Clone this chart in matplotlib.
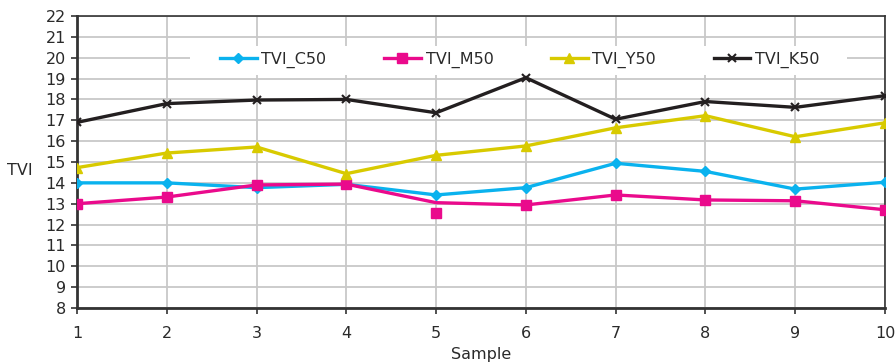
import matplotlib
matplotlib.use("Agg")
import matplotlib.pyplot as plt
from matplotlib.ticker import MultipleLocator
from matplotlib.patches import Rectangle

samples = [1, 2, 3, 4, 5, 6, 7, 8, 9, 10]
tvi_c50 = [14.0, 14.0, 13.77, 13.93, 13.42, 13.77, 14.94, 14.55, 13.7, 14.03]
tvi_m50 = [13.0, 13.32, 13.9, 13.94, 13.05, 12.94, 13.42, 13.18, 13.14, 12.71]
tvi_y50 = [14.73, 15.43, 15.72, 14.44, 15.32, 15.77, 16.64, 17.22, 16.21, 16.88]
tvi_k50 = [16.9, 17.8, 17.97, 18.0, 17.36, 19.04, 17.05, 17.9, 17.62, 18.18]
# sample 5 of M50 has its marker off the line
m50_marker_sample = 5
m50_marker_value = 12.57

plt.rcParams['font.family'] = ['DejaVu Sans']
fig = plt.figure(figsize=(8.96, 3.62), dpi=100)
ax = fig.add_axes([77 / 896, 1 - 308 / 362, (885 - 77) / 896, (308 - 16) / 362])

lw = 2.4
c_cyan = '#0AB2EE'
c_mag = '#EA0A8C'
c_yel = '#D8CA00'
c_blk = '#231F20'

ax.plot(samples, tvi_c50, color=c_cyan, lw=lw, marker='D', ms=5, label='TVI_C50', zorder=3)
ax.plot(samples, tvi_m50, color=c_mag, lw=lw, marker='s', ms=7,
        markevery=[i for i in range(len(samples)) if samples[i] != m50_marker_sample],
        label='TVI_M50', zorder=3)
ax.plot([m50_marker_sample], [m50_marker_value], color=c_mag, marker='s', ms=7, ls='none', zorder=3)
ax.plot(samples, tvi_y50, color=c_yel, lw=lw, marker='^', ms=7.5, label='TVI_Y50', zorder=3)
ax.plot(samples, tvi_k50, color=c_blk, lw=lw, marker='x', ms=6, mew=1.5, label='TVI_K50', zorder=4)

ax.set_xlim(1, 10)
ax.set_ylim(8, 22)
ax.xaxis.set_major_locator(MultipleLocator(1))
ax.yaxis.set_major_locator(MultipleLocator(1))
ax.grid(True, color='#C8C8C8', lw=1.3)
ax.set_axisbelow(True)

# white legend background over the grid
ax.add_patch(Rectangle((0.14, 0.798), 0.813, 0.099, transform=ax.transAxes,
                       facecolor='white', edgecolor='none', zorder=1))

for s in ['left', 'bottom']:
    ax.spines[s].set_color('#333333')
    ax.spines[s].set_linewidth(2)
for s in ['top', 'right']:
    ax.spines[s].set_color('#333333')
    ax.spines[s].set_linewidth(1.2)

ax.tick_params(axis='both', labelsize=11.5, colors='#333333', length=4, width=1.2, pad=4)
ax.tick_params(axis='x', pad=9)
for lab in ax.get_xticklabels() + ax.get_yticklabels():
    lab.set_color('#2a2a2a')

ax.set_xlabel('Sample', fontsize=11.5, color='#2a2a2a', labelpad=4)
fig.text(20 / 896, 1 - 171 / 362, 'TVI', fontsize=11.5, color='#2a2a2a', ha='center', va='center')

leg = ax.legend(loc='center', bbox_to_anchor=(0.548, 0.849), ncol=4, frameon=False,
                fontsize=11.5, handlelength=2.3, columnspacing=3.6, handletextpad=0.3,
                borderpad=0.2)
for t in leg.get_texts():
    t.set_color('#2a2a2a')

fig.savefig('out.png', dpi=100)
